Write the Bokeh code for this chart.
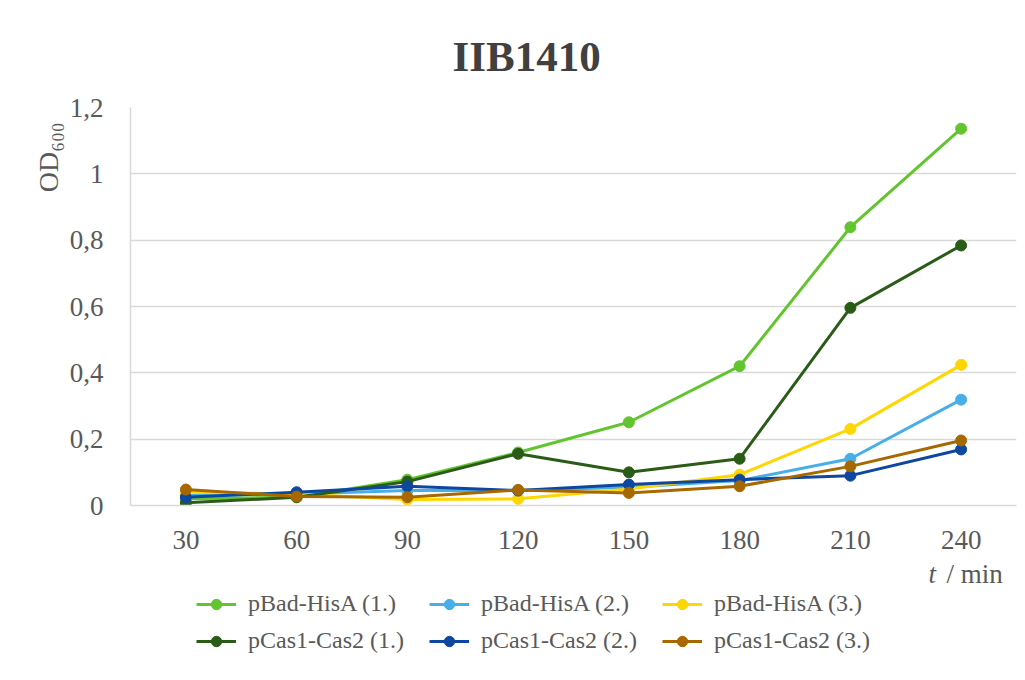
from bokeh.plotting import figure
from bokeh.layouts import column
from bokeh.models import (FactorRange, Range1d, FixedTicker, Legend, LegendItem, Title, Label)
from bokeh.embed import file_html
from bokeh.resources import INLINE

# ---- data ----
times = ["30", "60", "90", "120", "150", "180", "210", "240"]
pbad_1 = [0.020, 0.025, 0.078, 0.160, 0.251, 0.420, 0.839, 1.136]
pbad_2 = [0.030, 0.035, 0.045, 0.045, 0.055, 0.075, 0.141, 0.319]
pbad_3 = [0.040, 0.035, 0.018, 0.020, 0.050, 0.093, 0.231, 0.424]
pcas_1 = [0.008, 0.025, 0.072, 0.156, 0.100, 0.141, 0.596, 0.784]
pcas_2 = [0.025, 0.040, 0.058, 0.045, 0.063, 0.078, 0.090, 0.169]
pcas_3 = [0.048, 0.027, 0.025, 0.047, 0.038, 0.058, 0.118, 0.196]

series_names = ["pBad-HisA (1.)", "pBad-HisA (2.)", "pBad-HisA (3.)",
                "pCas1-Cas2 (1.)", "pCas1-Cas2 (2.)", "pCas1-Cas2 (3.)"]
series_values = [pbad_1, pbad_2, pbad_3, pcas_1, pcas_2, pcas_3]
series_colors = ["#62c52f", "#47aee8", "#ffd600", "#2a5c17", "#0e47a0", "#a86800"]

y_ticks = [0, 0.2, 0.4, 0.6, 0.8, 1.0, 1.2]
y_tick_labels = ["0", "0,2", "0,4", "0,6", "0,8", "1", "1,2"]

title_text = "IIB1410"
y_label = "OD\u2086\u2080\u2080"
x_label_var = "t"
x_label_unit = "/ min"
SERIF = "Liberation Serif"
TXT = "#595959"

p = figure(width=1017, height=557,
           x_range=FactorRange(*times), y_range=Range1d(0, 1.2),
           output_backend="svg", toolbar_location=None,
           min_border_left=130, min_border_right=1,
           min_border_top=107, min_border_bottom=52)
p.outline_line_color = None
p.background_fill_color = "white"
p.border_fill_color = "white"

# axes
p.xaxis.axis_line_color = "#d9d9d9"
p.xaxis.axis_line_width = 1.5
p.xaxis.major_tick_line_color = None
p.xaxis.minor_tick_line_color = None
p.xaxis.major_label_text_font = SERIF
p.xaxis.major_label_text_font_size = "27px"
p.xaxis.major_label_text_color = TXT
p.xaxis.major_label_standoff = 19

p.yaxis.ticker = FixedTicker(ticks=y_ticks)
p.yaxis.major_label_overrides = {t: l for t, l in zip(y_ticks, y_tick_labels)}
p.yaxis.axis_line_color = "#d9d9d9"
p.yaxis.axis_line_width = 1.5
p.yaxis.major_tick_line_color = None
p.yaxis.minor_tick_line_color = None
p.yaxis.major_label_text_font = SERIF
p.yaxis.major_label_text_font_size = "27px"
p.yaxis.major_label_text_color = TXT
p.yaxis.major_label_standoff = 21

p.xgrid.grid_line_color = None
p.ygrid.grid_line_color = "#d9d9d9"
p.ygrid.grid_line_width = 1.5

for name, vals, col in zip(series_names, series_values, series_colors):
    p.line(times, vals, line_color=col, line_width=3, line_join="round")
    p.scatter(times, vals, size=11, fill_color=col, line_color=col)

# title
p.add_layout(Title(text=title_text, align="left", offset=322, standoff=55,
                   text_font=SERIF, text_font_size="43px", text_font_style="bold",
                   text_color="#404040"), "above")

# y axis title
p.add_layout(Title(text=y_label, align="right", offset=15, standoff=5,
                   text_font=SERIF, text_font_size="28px", text_font_style="normal",
                   text_color=TXT), "left")

# ---- legend strip (below the chart); its frame is aligned with the chart's ----
q = figure(width=1017, height=115, x_range=Range1d(0, 1), y_range=Range1d(2, 3),
           output_backend="svg", toolbar_location=None,
           x_axis_location=None, y_axis_location=None,
           min_border=0)
q.outline_line_color = None
q.grid.visible = False
q.background_fill_color = "white"
q.border_fill_color = "white"

items = []
for name, vals, col in zip(series_names, series_values, series_colors):
    idx = list(range(len(vals)))
    # same series, outside this strip's visible range: only used for legend glyphs
    l = q.line(idx, vals, line_color=col, line_width=3)
    s = q.scatter(idx, vals, size=11, fill_color=col, line_color=col)
    items.append(LegendItem(label=name, renderers=[l, s]))

legend = Legend(items=items, orientation="horizontal", nrows=2, ncols=3,
                location=(66, 13), margin=0, padding=0,
                spacing=0, label_standoff=12, glyph_width=40, glyph_height=26,
                label_width=181, label_height=37,
                label_text_font=SERIF, label_text_font_size="24px",
                label_text_color=TXT, border_line_color=None,
                background_fill_alpha=0)
q.add_layout(legend, "center")

q.add_layout(Label(x=798, y=99, x_units="screen", y_units="screen",
                   text=x_label_var, text_font=SERIF, text_font_size="27px",
                   text_font_style="italic", text_color=TXT,
                   text_align="left", text_baseline="alphabetic"))
q.add_layout(Label(x=816, y=99, x_units="screen", y_units="screen",
                   text=x_label_unit, text_font=SERIF, text_font_size="27px",
                   text_color=TXT, text_align="left", text_baseline="alphabetic"))

layout = column(p, q, spacing=0)
open("out.html", "w").write(file_html(layout, INLINE))
